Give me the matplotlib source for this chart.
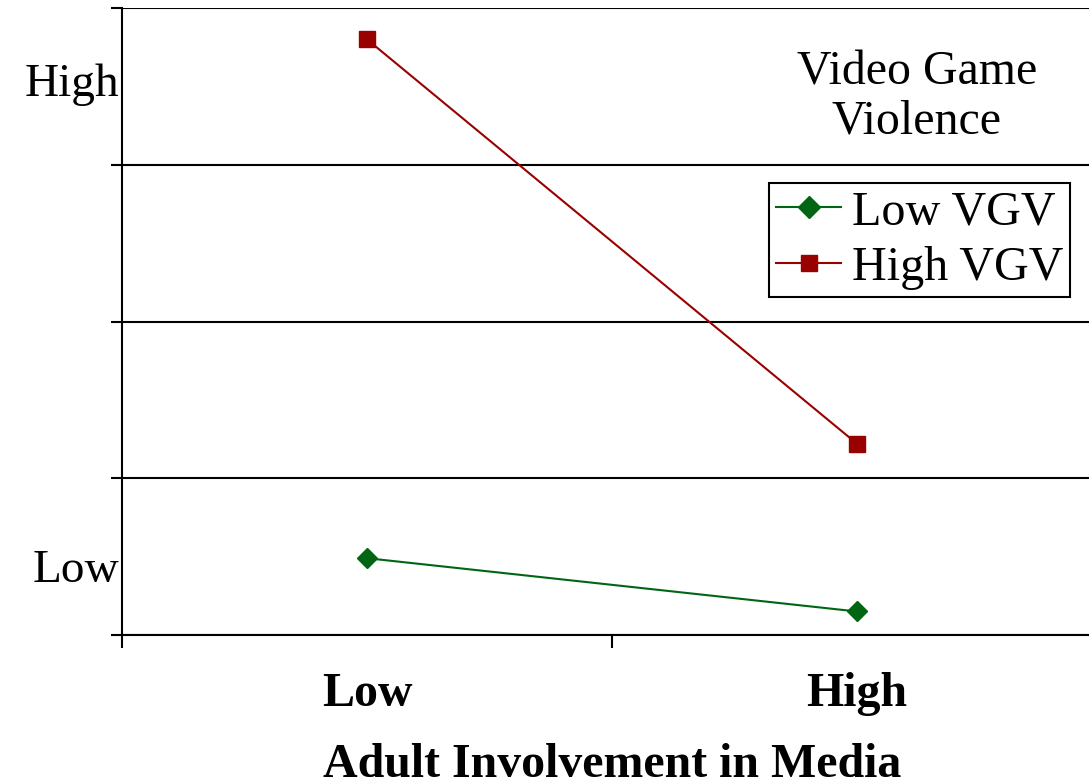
import numpy as np
import matplotlib.pyplot as plt

plt.rcParams['font.family'] = 'serif'
plt.rcParams['font.serif'] = ['Liberation Serif', 'DejaVu Serif']

categories = ['Low', 'High']
series_names = ['Low VGV', 'High VGV']
low_vgv = [0.49, 0.15]
high_vgv = [3.80, 1.22]
y_labels = ['Low', 'High']
y_label_pos = [0.41, 3.51]

fig = plt.figure(figsize=(10.89, 7.82), dpi=100)
ax = fig.add_axes([122 / 1089, 147 / 782, 980 / 1089, 627 / 782])

x = np.arange(len(categories))
ax.plot(x, low_vgv, color='#006614', lw=1.5, marker='D', ms=10.5,
        label=series_names[0], clip_on=False)
ax.plot(x, high_vgv, color='#990000', lw=1.5, marker='s', ms=11,
        label=series_names[1], clip_on=False)

ax.set_xlim(-0.5, 1.5)
ax.set_ylim(0, 4)

# y gridlines and ticks
ax.set_yticks([0, 1, 2, 3, 4])
ax.set_yticklabels([])
ax.tick_params(axis='y', direction='out', length=8, width=1.5, color='black')
ax.grid(axis='y', color='black', lw=1.5)
for yv, lab in zip(y_label_pos, y_labels):
    ax.text(-0.505, yv, lab, ha='right', va='center', fontsize=34)

# x ticks at boundaries, labels at categories
ax.set_xticks([-0.5, 0.5, 1.5], minor=True)
ax.tick_params(axis='x', which='minor', direction='out', length=9, width=1.5)
ax.set_xticks(x)
ax.set_xticklabels(categories, fontsize=34.5, fontweight='bold')
ax.tick_params(axis='x', which='major', length=0, pad=27)
ax.set_xlabel('Adult Involvement in Media', fontsize=34.5, fontweight='bold', labelpad=19)

for s in ['top', 'right']:
    ax.spines[s].set_visible(False)
for s in ['left', 'bottom']:
    ax.spines[s].set_linewidth(1.5)

ax.text(917 / 1089, 1 - 97 / 782, 'Video Game\nViolence', transform=fig.transFigure,
        ha='center', va='center', fontsize=34.5, linespacing=1.15)

leg = ax.legend(loc='upper left', bbox_to_anchor=(769 / 1089, 1 - 183 / 782),
                bbox_transform=fig.transFigure, borderaxespad=0, fontsize=34.7,
                frameon=True, fancybox=False, edgecolor='black', framealpha=1,
                handlelength=1.35, handletextpad=0.22, borderpad=0.15,
                labelspacing=0.24, markerscale=1.1)
leg.get_frame().set_linewidth(1.5)

fig.savefig('out.png', dpi=100)
